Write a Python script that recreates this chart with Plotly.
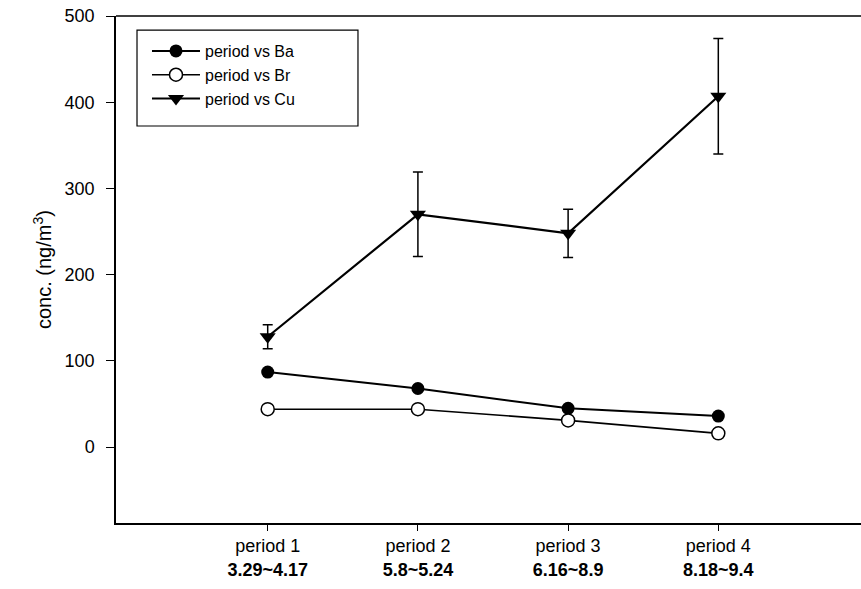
import plotly.graph_objects as go

periods = ["period 1", "period 2", "period 3", "period 4"]
date_ranges = ["3.29~4.17", "5.8~5.24", "6.16~8.9", "8.18~9.4"]
ba_values = [87, 68, 45, 36]
br_values = [44, 44, 31, 16]
cu_values = [128, 270, 248, 407]
cu_errors = [14, 49, 28, 67]
y_ticks = [0, 100, 200, 300, 400, 500]

x_pos = list(range(len(periods)))
tick_text = [f"{p}<br><b>{d}</b>" for p, d in zip(periods, date_ranges)]

FONT = "Liberation Sans, Arial, sans-serif"

fig = go.Figure()
fig.add_trace(go.Scatter(
    x=x_pos, y=ba_values, mode="lines+markers", name="period vs Ba",
    line=dict(color="black", width=2),
    marker=dict(symbol="circle", size=13, color="black"),
))
fig.add_trace(go.Scatter(
    x=x_pos, y=br_values, mode="lines+markers", name="period vs Br",
    line=dict(color="black", width=1.6),
    marker=dict(symbol="circle", size=13, color="white", line=dict(color="black", width=1.5)),
))
fig.add_trace(go.Scatter(
    x=x_pos, y=cu_values, mode="lines+markers", name="period vs Cu",
    line=dict(color="black", width=2.2),
    marker=dict(symbol="triangle-down", size=14, color="black"),
    error_y=dict(type="data", array=cu_errors, visible=True, color="black", thickness=1.5, width=5),
))

fig.update_layout(
    width=861, height=589,
    margin=dict(l=116, r=0, t=16, b=66),
    paper_bgcolor="white", plot_bgcolor="white",
    font=dict(family=FONT, color="black", size=18),
    showlegend=True,
    legend=dict(
        x=0.0416, y=0.9645, xanchor="left", yanchor="top",
        bgcolor="rgba(0,0,0,0)", borderwidth=0,
        font=dict(size=16, family=FONT, color="black"),
        tracegroupgap=0, itemwidth=48,
    ),
    xaxis=dict(
        range=[-1.01, 3.95], tickmode="array", tickvals=x_pos, ticktext=tick_text,
        showgrid=False, zeroline=False, showline=True, linecolor="black", linewidth=1.5,
        ticks="outside", ticklen=6, tickwidth=1, tickcolor="black",
        tickfont=dict(size=18, family=FONT, color="black"),
    ),
    yaxis=dict(
        range=[-88, 500], tickmode="array", tickvals=y_ticks,
        showgrid=False, zeroline=False, showline=True, linecolor="black", linewidth=1.5,
        ticks="outside", ticklen=8, tickwidth=1, tickcolor="black",
        ticklabelstandoff=8,
        tickfont=dict(size=18, family=FONT, color="black"),
    ),
    shapes=[
        dict(type="line", xref="paper", yref="paper", x0=0, x1=1, y0=1, y1=1,
             line=dict(color="black", width=1.5)),
        dict(type="rect", xref="paper", yref="paper", x0=0.0282, x1=0.3248, y0=0.783, y1=0.972,
             line=dict(color="black", width=1.2), fillcolor="rgba(0,0,0,0)"),
    ],
    annotations=[
        dict(text="conc. (ng/m<sup>3</sup>)", xref="paper", yref="paper", x=-0.0993, y=0.499,
             textangle=-90, showarrow=False, font=dict(size=20, family=FONT, color="black"),
             xanchor="center", yanchor="middle"),
    ],
)

fig.write_html(
    "out.html",
    config={"displayModeBar": False},
    post_script="document.body.style.margin='0';document.body.style.overflow='hidden';",
)
